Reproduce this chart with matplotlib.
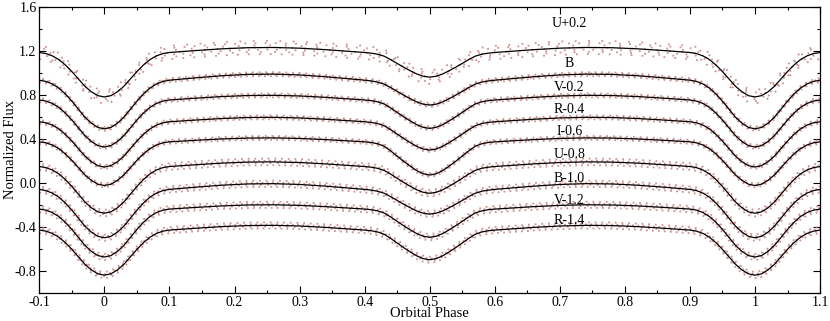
import numpy as np
import matplotlib
matplotlib.use('Agg')
import matplotlib.pyplot as plt
from matplotlib.ticker import MultipleLocator, FormatStrFormatter

# orbital phase grid 0..1 (denser inside the two eclipses)
phase = [0.00, 0.01, 0.02, 0.03, 0.04, 0.05, 0.06, 0.07, 0.08, 0.09, 0.10,
         0.14, 0.18, 0.22, 0.26, 0.30, 0.34, 0.38,
         0.40, 0.41, 0.42, 0.43, 0.44, 0.45, 0.46, 0.47, 0.48, 0.49, 0.50,
         0.51, 0.52, 0.53, 0.54, 0.55, 0.56, 0.57, 0.58, 0.59, 0.60,
         0.62, 0.66, 0.70, 0.74, 0.78, 0.82, 0.86,
         0.90, 0.91, 0.92, 0.93, 0.94, 0.95, 0.96, 0.97, 0.98, 0.99, 1.00]
# out-of-eclipse variation (0 at quadrature, 1 at conjunction)
ellip = [1.000, 0.996, 0.984, 0.965, 0.938, 0.905, 0.865, 0.819, 0.768, 0.713, 0.655,
         0.406, 0.181, 0.035, 0.004, 0.095, 0.287, 0.532,
         0.655, 0.713, 0.768, 0.819, 0.865, 0.905, 0.938, 0.965, 0.984, 0.996, 1.000,
         0.996, 0.984, 0.965, 0.938, 0.905, 0.865, 0.819, 0.768, 0.713, 0.655,
         0.532, 0.287, 0.095, 0.004, 0.035, 0.181, 0.406,
         0.655, 0.713, 0.768, 0.819, 0.865, 0.905, 0.938, 0.965, 0.984, 0.996, 1.000]
# primary eclipse profile (fraction of depth)
prim = [1.00, 0.97, 0.88, 0.75, 0.58, 0.41, 0.26, 0.14, 0.06, 0.015, 0.00,
        0, 0, 0, 0, 0, 0, 0,
        0, 0, 0, 0, 0, 0, 0, 0, 0, 0, 0,
        0, 0, 0, 0, 0, 0, 0, 0, 0, 0,
        0, 0, 0, 0, 0, 0, 0,
        0.00, 0.015, 0.06, 0.14, 0.26, 0.41, 0.58, 0.75, 0.88, 0.97, 1.00]
# secondary eclipse profile (fraction of depth)
sec = [0, 0, 0, 0, 0, 0, 0, 0, 0, 0, 0,
       0, 0, 0, 0, 0, 0, 0,
       0.00, 0.01, 0.04, 0.11, 0.25, 0.41, 0.57, 0.72, 0.86, 0.96, 1.00,
       0.96, 0.86, 0.72, 0.57, 0.41, 0.25, 0.11, 0.04, 0.01, 0.00,
       0, 0, 0, 0, 0, 0, 0,
       0, 0, 0, 0, 0, 0, 0, 0, 0, 0, 0]

bands = ['U+0.2', 'B', 'V-0.2', 'R-0.4', 'I-0.6', 'U-0.8', 'B-1.0', 'V-1.2', 'R-1.4']
top = [1.230, 0.988, 0.795, 0.595, 0.408, 0.190, -0.008, -0.200, -0.387]
amp = [0.070, 0.085, 0.065, 0.062, 0.055, 0.065, 0.080, 0.060, 0.066]
depth_p = [0.380, 0.413, 0.405, 0.390, 0.378, 0.402, 0.412, 0.415, 0.387]
depth_s = [0.200, 0.197, 0.236, 0.236, 0.283, 0.221, 0.197, 0.236, 0.247]
scatter = [0.060, 0.018, 0.018, 0.018, 0.018, 0.030, 0.028, 0.028, 0.028]
label_y = [1.45, 1.087, 0.867, 0.67, 0.47, 0.261, 0.04, -0.164, -0.34]
label_x = 0.715

plt.rcParams['font.family'] = ['Liberation Serif', 'DejaVu Serif']
plt.rcParams['axes.unicode_minus'] = False

ph = np.array(phase)
lo = (ph >= 0.9) & (ph < 1.0)
hi = (ph > 0.0) & (ph <= 0.1)
x = np.concatenate([ph[lo] - 1, ph, ph[hi] + 1])

fig = plt.figure(figsize=(8.3, 3.21), dpi=100)
ax = fig.add_axes([0.0474, 0.088, 0.9406, 0.891])

dot_col = '#c48080'
gaps = [2.3, 3.1, 1.9, 2.7, 3.5, 2.1, 2.9]
for i, name in enumerate(bands):
    f = top[i] - amp[i] * np.array(ellip) - depth_p[i] * np.array(prim) - depth_s[i] * np.array(sec)
    y = np.concatenate([f[lo], f, f[hi]])
    s = scatter[i]
    n = 7 if i == 0 else 4
    for k, o in enumerate(np.linspace(-s, s, n)):
        g = gaps[k] * (2.2 if i == 0 else 1.0)
        ax.plot(x, y + o, color=dot_col, lw=1.3, alpha=0.85,
                ls=(k * 0.7, (1, g)), solid_capstyle='butt')
    ax.plot(x, y, color='k', lw=0.9)
    ax.text(label_x, label_y[i], name, fontsize=10, ha='center', va='center')

ax.set_xlim(-0.1, 1.1)
ax.set_ylim(-1.0, 1.6)
ax.xaxis.set_major_locator(MultipleLocator(0.1))
ax.xaxis.set_minor_locator(MultipleLocator(0.05))
ax.yaxis.set_major_locator(MultipleLocator(0.4))
ax.yaxis.set_minor_locator(MultipleLocator(0.2))
ax.xaxis.set_major_formatter(FormatStrFormatter('%g'))
ax.yaxis.set_major_formatter(FormatStrFormatter('%.1f'))
ax.tick_params(which='both', direction='in', top=True, right=True, labelsize=10, width=0.8, pad=2)
ax.tick_params(which='major', length=5)
ax.tick_params(which='minor', length=2.5)
for sp in ax.spines.values():
    sp.set_linewidth(0.9)
ax.set_xlabel('Orbital Phase', fontsize=10.5, va='top')
ax.set_ylabel('Normalized Flux', fontsize=10.5, va='center')
ax.xaxis.set_label_coords(0.5, -0.05)
ax.yaxis.set_label_coords(-0.0375, 0.5)

fig.savefig('out.png', dpi=100)
